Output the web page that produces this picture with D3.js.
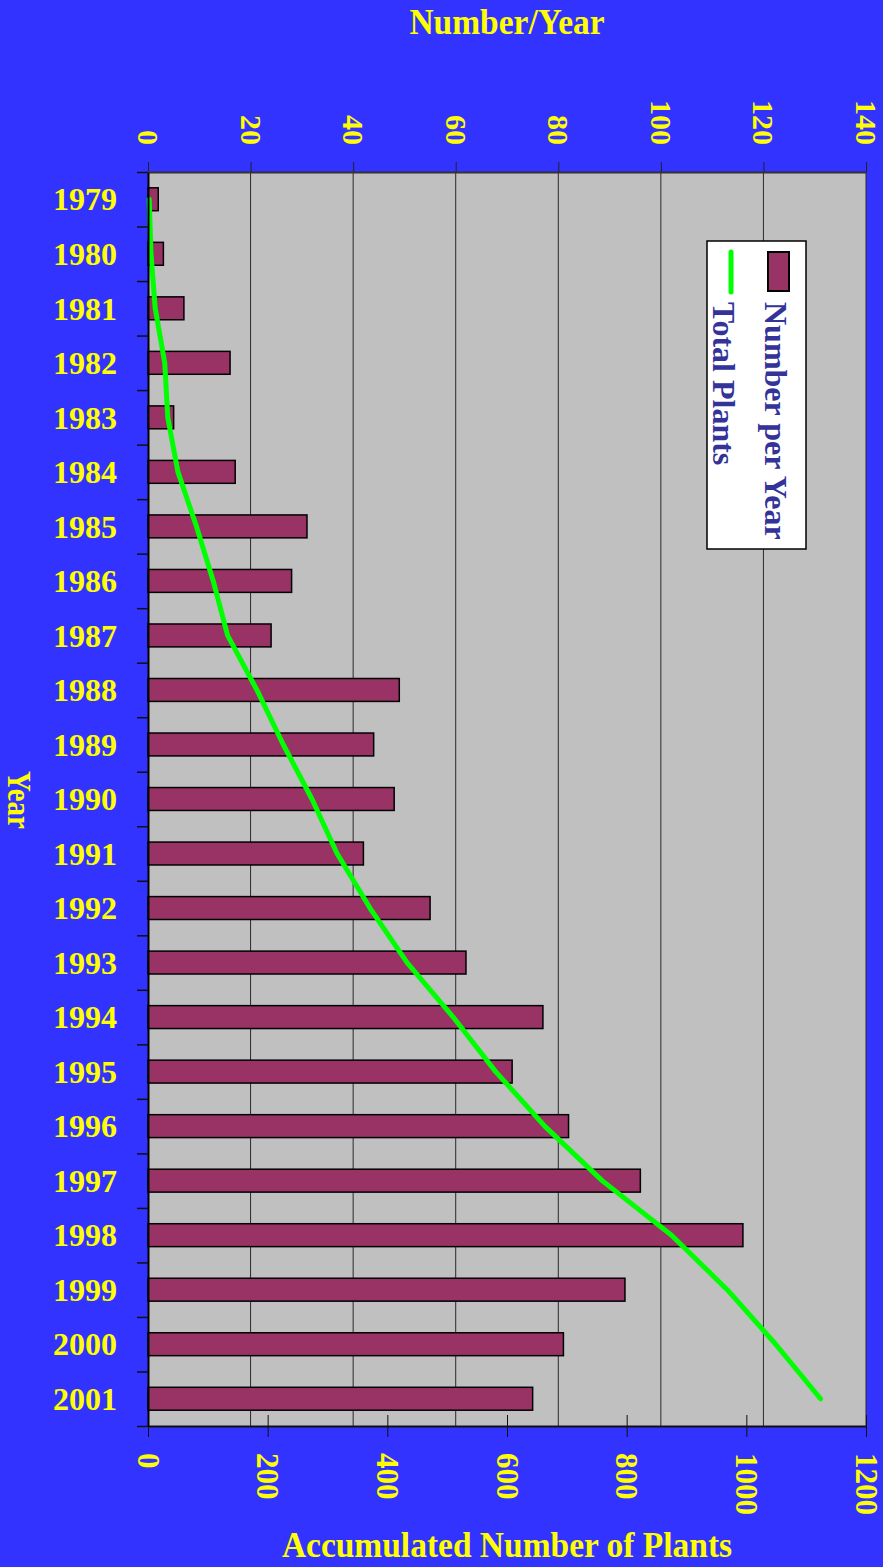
<!DOCTYPE html>
<html>
<head>
	<meta charset="utf-8">
	<script src="https://d3js.org/d3.v7.min.js"></script>
	<title>Number per Year and Total Plants</title>
	<style>
		body { margin: 0; background: #3333ff; }
		svg text { font-family: "Liberation Serif", "Times New Roman", serif; font-weight: bold; }
	</style>
</head>
<body>
	<div id="chart"></div>

	<script type="text/javascript">

		// data
		var years = ["1979","1980","1981","1982","1983","1984","1985","1986","1987","1988","1989","1990",
					 "1991","1992","1993","1994","1995","1996","1997","1998","1999","2000","2001"];
		var perYear = [2, 3, 7, 16, 5, 17, 31, 28, 24, 49, 44, 48, 42, 55, 62, 77, 71, 82, 96, 116, 93, 81, 75];
		var totalPlants = [2, 5, 12, 28, 33, 50, 81, 109, 133, 182, 226, 274, 316, 371, 433, 510, 581, 663, 759, 875, 968, 1049, 1124];
		var topTicks = [0, 20, 40, 60, 80, 100, 120, 140];
		var bottomTicks = [0, 200, 400, 600, 800, 1000, 1200];

		var svgwidth = 883;
		var svgheight = 1567;
		var plotLeft = 148, plotRight = 866, plotTop = 172, plotBottom = 1426;
		var yellow = "#ffff00";

		var svg = d3.select("#chart").append("svg")
					.attr("width", svgwidth)
					.attr("height", svgheight);

		svg.append("rect")
			.attr("width", svgwidth).attr("height", svgheight)
			.attr("fill", "#3333ff");

		var xScale = d3.scaleLinear().domain([0, 140]).range([plotLeft, plotRight]);
		var xTotal = d3.scaleLinear().domain([0, 1200]).range([plotLeft, plotRight]);
		var yScale = d3.scaleBand().domain(years).range([plotTop, plotBottom]).paddingInner(0.58).paddingOuter(0.29);
		var yEdge = d3.scaleLinear().domain([0, years.length]).range([plotTop, plotBottom]);

		// plot area
		svg.append("rect")
			.attr("x", plotLeft).attr("y", plotTop)
			.attr("width", plotRight - plotLeft).attr("height", plotBottom - plotTop)
			.attr("fill", "#c0c0c0");

		// gridlines
		svg.selectAll(".grid")
			.data(topTicks.slice(1)).enter().append("line")
			.attr("class", "grid")
			.attr("x1", function(d){ return xScale(d); })
			.attr("x2", function(d){ return xScale(d); })
			.attr("y1", plotTop).attr("y2", plotBottom)
			.attr("stroke", "#2a2a2a").attr("stroke-width", 1);

		// bars
		svg.selectAll(".bar")
			.data(perYear).enter().append("rect")
			.attr("class", "bar")
			.attr("x", xScale(0))
			.attr("y", function(d, i){ return yScale(years[i]); })
			.attr("width", function(d){ return xScale(d) - xScale(0); })
			.attr("height", yScale.bandwidth())
			.attr("fill", "#993366")
			.attr("stroke", "#000")
			.attr("stroke-width", 1.5);

		// total line
		var line = d3.line()
			.x(function(d){ return xTotal(d); })
			.y(function(d, i){ return yScale(years[i]) + yScale.bandwidth() / 2; });

		svg.append("path")
			.datum(totalPlants)
			.attr("d", line)
			.attr("fill", "none")
			.attr("stroke", "#00ff00")
			.attr("stroke-width", 5)
			.attr("stroke-linecap", "round")
			.attr("stroke-linejoin", "round");

		// top axis
		var topAxis = svg.append("g")
			.attr("transform", "translate(0," + plotTop + ")")
			.call(d3.axisTop(xScale).tickValues(topTicks).tickSize(10).tickSizeOuter(0));
		topAxis.select(".domain").attr("stroke", "#333").attr("stroke-width", 2);
		topAxis.selectAll("line").attr("stroke", "#222");
		topAxis.selectAll("text")
			.attr("x", 0).attr("y", 0).attr("dy", "0.35em")
			.attr("transform", "translate(0,-27) rotate(90)")
			.attr("text-anchor", "end")
			.attr("fill", yellow)
			.style("font-size", "30px");

		// bottom axis, ticks cross the line
		var bottomAxis = svg.append("g")
			.attr("transform", "translate(0," + plotBottom + ")")
			.call(d3.axisBottom(xTotal).tickValues(bottomTicks).tickFormat(d3.format("d")).tickSize(11).tickSizeOuter(0));
		bottomAxis.select(".domain").attr("stroke", "#111").attr("stroke-width", 2);
		bottomAxis.selectAll("line").attr("y1", -11).attr("y2", 11).attr("stroke", "#111");
		bottomAxis.selectAll("text")
			.attr("x", 0).attr("y", 0).attr("dy", "0.35em")
			.attr("transform", "translate(0,27) rotate(90)")
			.attr("text-anchor", "start")
			.attr("fill", yellow)
			.style("font-size", "31px");

		// left axis, ticks between the years
		var leftAxis = svg.append("g")
			.attr("transform", "translate(" + plotLeft + ",0)")
			.call(d3.axisLeft(yEdge).tickValues(d3.range(years.length + 1)).tickFormat("").tickSize(11).tickSizeOuter(0));
		leftAxis.select(".domain").attr("stroke", "#000").attr("stroke-width", 2);
		leftAxis.selectAll("line").attr("stroke", "#111").attr("stroke-width", 1.5);

		svg.selectAll(".yearlabel")
			.data(years).enter().append("text")
			.attr("class", "yearlabel")
			.attr("x", 117)
			.attr("y", function(d){ return yScale(d) + yScale.bandwidth() / 2; })
			.attr("dy", "0.35em")
			.attr("text-anchor", "end")
			.attr("fill", yellow)
			.style("font-size", "32px")
			.text(function(d){ return d; });

		// titles
		svg.append("text")
			.attr("transform", "translate(507,34) scale(0.93,1)")
			.attr("text-anchor", "middle")
			.attr("fill", yellow)
			.style("font-size", "36px")
			.text("Number/Year");

		svg.append("text")
			.attr("transform", "translate(507,1557) scale(0.93,1)")
			.attr("text-anchor", "middle")
			.attr("fill", yellow)
			.style("font-size", "36px")
			.text("Accumulated Number of Plants");

		svg.append("text")
			.attr("transform", "translate(8,800) rotate(90) scale(0.85,1)")
			.attr("text-anchor", "middle")
			.attr("fill", yellow)
			.style("font-size", "34px")
			.text("Year");

		// legend
		var legend = svg.append("g");
		legend.append("rect")
			.attr("x", 707).attr("y", 241).attr("width", 99).attr("height", 308)
			.attr("fill", "#fff").attr("stroke", "#000").attr("stroke-width", 1.5);
		legend.append("rect")
			.attr("x", 768).attr("y", 252).attr("width", 21).attr("height", 39)
			.attr("fill", "#993366").attr("stroke", "#000").attr("stroke-width", 2);
		legend.append("line")
			.attr("x1", 731).attr("x2", 731).attr("y1", 252).attr("y2", 292)
			.attr("stroke", "#00ff00").attr("stroke-width", 5).attr("stroke-linecap", "round");
		legend.append("text")
			.attr("transform", "translate(765,302) rotate(90)")
			.attr("fill", "#333399")
			.style("font-size", "32px")
			.text("Number per Year");
		legend.append("text")
			.attr("transform", "translate(713,302) rotate(90)")
			.attr("fill", "#333399")
			.style("font-size", "32px")
			.text("Total Plants");

	</script>
</body>
</html>
